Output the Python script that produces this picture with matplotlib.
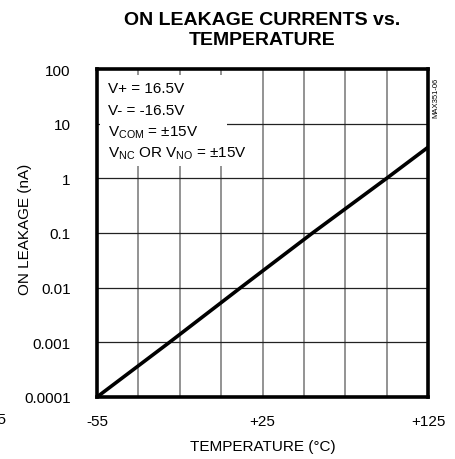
import numpy as np
import matplotlib.pyplot as plt
from matplotlib.patches import Rectangle
from matplotlib import font_manager

# data (log-linear straight line)
temps = [-55, -15.6, 23.1, 62.2, 102.5, 125]
leakage = [0.0001, 0.001, 0.01, 0.1, 1, 3.7]

xgrid = [-55 + 22.5 * i for i in range(9)]
xlabels = ["-55", "", "", "", "+25", "", "", "", "+125"]
ydecades = [0.0001, 0.001, 0.01, 0.1, 1, 10, 100]
ylabels = ["0.0001", "0.001", "0.01", "0.1", "1", "10", "100"]

names = {f.name for f in font_manager.fontManager.ttflist}
base = "Liberation Sans" if "Liberation Sans" in names else "DejaVu Sans"
narrow = "Liberation Sans Narrow" if "Liberation Sans Narrow" in names else base
plt.rcParams["font.family"] = base
plt.rcParams["mathtext.fontset"] = "custom"
plt.rcParams["mathtext.rm"] = base

fig = plt.figure(figsize=(4.55, 4.6), dpi=100)
ax = fig.add_axes([97 / 455, 62 / 460, 331 / 455, 328 / 460])

ax.set_yscale("log")
ax.set_xlim(-55, 125)
ax.set_ylim(0.0001, 100)
ax.set_xticks(xgrid)
ax.set_xticklabels(xlabels, fontsize=11)
ax.set_yticks(ydecades)
ax.set_yticklabels(ylabels, fontsize=11)
ax.minorticks_off()
ax.tick_params(axis="x", length=0, pad=12.5)
ax.tick_params(axis="y", length=0, pad=19)

for x in xgrid[1:-1]:
    ax.axvline(x, color="#808080", lw=1.2, zorder=1)
for y in ydecades[1:-1]:
    ax.axhline(y, color="#222222", lw=0.9, zorder=1)

ax.plot(temps, leakage, color="black", lw=2.6, zorder=4, solid_capstyle="butt")

ax.add_patch(Rectangle((0.009, 0.704), 0.384, 0.278, transform=ax.transAxes,
                       facecolor="white", edgecolor="none", zorder=2))
lines = ["V+ = 16.5V", "V- = -16.5V", r"$\mathregular{V_{COM}}$ = ±15V",
         r"$\mathregular{V_{NC}}$ OR $\mathregular{V_{NO}}$ = ±15V"]
for i, s in enumerate(lines):
    ax.text(0.033, 0.93 - i * 0.066, s, transform=ax.transAxes, fontsize=11,
            va="baseline", ha="left", zorder=3)

for sp in ax.spines.values():
    sp.set_linewidth(2.6)
    sp.set_zorder(5)

ax.set_xlabel("TEMPERATURE (°C)", fontsize=11, labelpad=8)
ax.set_ylabel("ON LEAKAGE (nA)", fontsize=11)
ax.yaxis.set_label_coords(-0.197, 0.515)

fig.text(262 / 455, 1 - 30.5 / 460, "ON LEAKAGE CURRENTS vs.\nTEMPERATURE",
         ha="center", va="center", fontsize=14, fontweight="bold",
         family=narrow, linespacing=1.3)
fig.text(436 / 455, 1 - 98 / 460, "MAX351-06", rotation=90, fontsize=5.5,
         ha="center", va="center", family=narrow)
fig.text(6 / 455, 1 - 420 / 460, "-55", ha="right", va="center", fontsize=11)

fig.savefig("out.png", dpi=100)
